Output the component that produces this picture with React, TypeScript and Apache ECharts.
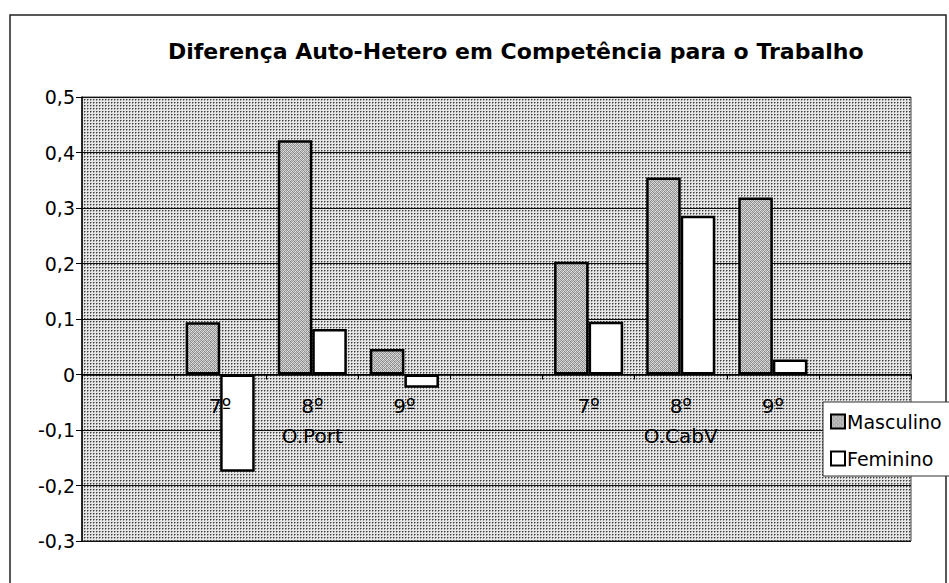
import React, { useEffect, useRef } from "react";
import * as echarts from "echarts";

const titleText = "Diferença Auto-Hetero em Competência para o Trabalho";
const grades = ["", "7º", "8º", "9º", "", "7º", "8º", "9º", ""];
const groupLabels = ["", "", "O.Port", "", "", "", "O.CabV", "", ""];
const masculino = [null, 0.094, 0.422, 0.046, null, 0.203, 0.355, 0.319, null];
const feminino = [null, -0.175, 0.082, -0.024, null, 0.095, 0.286, 0.027, null];
const yTicks = { min: -0.3, max: 0.5, interval: 0.1 };

function makePattern(kind: "bg" | "bar"): HTMLCanvasElement {
  const c = document.createElement("canvas");
  const n = kind === "bg" ? 3 : 4;
  c.width = n;
  c.height = n;
  const ctx = c.getContext("2d")!;
  if (kind === "bg") {
    ctx.fillStyle = "#e6e6e6";
    ctx.fillRect(0, 0, n, n);
    ctx.fillStyle = "#949494";
    ctx.fillRect(1, 0, 1, 1);
    ctx.fillRect(0, 1, 1, 1);
    ctx.fillStyle = "#3c3c3c";
    ctx.fillRect(0, 0, 1, 1);
  } else {
    const px = [
      "#c8c8c8", "#8a8a8a", "#d8d8d8", "#a0a0a0",
      "#9a9a9a", "#e0e0e0", "#7c7c7c", "#cfcfcf",
      "#dcdcdc", "#a6a6a6", "#c2c2c2", "#8e8e8e",
      "#888888", "#d2d2d2", "#9e9e9e", "#e4e4e4",
    ];
    for (let i = 0; i < 16; i++) {
      ctx.fillStyle = px[i];
      ctx.fillRect(i % 4, Math.floor(i / 4), 1, 1);
    }
  }
  return c;
}

export default function App() {
  const ref = useRef<HTMLDivElement>(null);
  useEffect(() => {
    if (!ref.current) return;
    const chart = echarts.init(ref.current, null, { renderer: "svg" });
    const bgPattern = { image: makePattern("bg"), repeat: "repeat" } as any;
    const barPattern = { image: makePattern("bar"), repeat: "repeat" } as any;
    const categories = grades.map((g, i) => (groupLabels[i] ? g + "\n" + groupLabels[i] : g));
    const font = "'DejaVu Sans', 'Liberation Sans', Arial, sans-serif";
    chart.setOption({
      animation: false,
      backgroundColor: "#ffffff",
      textStyle: { fontFamily: font },
      title: {
        text: titleText,
        left: 163,
        top: 35,
        textStyle: { fontFamily: font, fontSize: 22, fontWeight: "bold", color: "#000" },
      },
      graphic: [
        {
          type: "rect",
          shape: { x: 10, y: 15, width: 936, height: 580 },
          style: { fill: "none", stroke: "#222", lineWidth: 1.5 },
          z: -10,
        },
      ],
      grid: {
        left: 82,
        right: 38,
        top: 97,
        bottom: 42,
        outerBoundsMode: "none",
        containLabel: false,
        show: true,
        backgroundColor: bgPattern,
        borderColor: "#444",
        borderWidth: 1,
      },
      legend: {
        orient: "vertical",
        left: 823,
        top: 402,
        z: 20,
        backgroundColor: "#fff",
        borderColor: "#333",
        borderWidth: 1,
        borderRadius: 0,
        padding: [10, 12, 8, 7],
        itemGap: 18,
        itemWidth: 14,
        itemHeight: 14,
        icon: "rect",
        textStyle: { fontFamily: font, fontSize: 19, color: "#000", padding: [0, 0, 0, -3] },
        data: ["Masculino", "Feminino"],
      },
      xAxis: {
        type: "category",
        data: categories,
        z: 5,
        axisLine: { onZero: false, lineStyle: { color: "#000", width: 1.5 } },
        axisTick: { show: true, interval: 0, length: 5, inside: false, lineStyle: { color: "#000" } },
        axisLabel: {
          interval: 0,
          margin: 16,
          fontSize: 20,
          color: "#000",
          lineHeight: 30,
          fontFamily: font,
        },
        splitLine: { show: false },
      },
      yAxis: {
        type: "value",
        min: yTicks.min,
        max: yTicks.max,
        interval: yTicks.interval,
        axisLine: { show: true, lineStyle: { color: "#000", width: 1.5 } },
        axisTick: { show: true, length: 6, lineStyle: { color: "#000" } },
        axisLabel: {
          fontSize: 19,
          color: "#000",
          margin: 7,
          fontFamily: font,
          formatter: (v: number) => (Math.abs(v) < 1e-9 ? "0" : v.toFixed(1).replace(".", ",")),
        },
        splitLine: { show: true, lineStyle: { color: "#111", width: 1 } },
      },
      series: [
        {
          name: "Masculino",
          type: "bar",
          data: masculino,
          barGap: "0%",
          barCategoryGap: "25%",
          itemStyle: { color: barPattern, borderColor: "#000", borderWidth: 2.5 },
        },
        {
          name: "Feminino",
          type: "bar",
          data: feminino,
          itemStyle: { color: "#ffffff", borderColor: "#000", borderWidth: 2.5 },
        },
      ],
    });
    // Move the category axis (line, ticks, labels) up to the zero value of the y scale.
    const y0 = chart.convertToPixel({ yAxisIndex: 0 }, 0) as number;
    const yMin = chart.convertToPixel({ yAxisIndex: 0 }, yTicks.min) as number;
    chart.setOption({ xAxis: { offset: y0 - yMin } });
    return () => chart.dispose();
  }, []);
  return (
    <div
      ref={ref}
      style={{ position: "absolute", left: 0, top: 0, width: 949, height: 583 }}
    />
  );
}
